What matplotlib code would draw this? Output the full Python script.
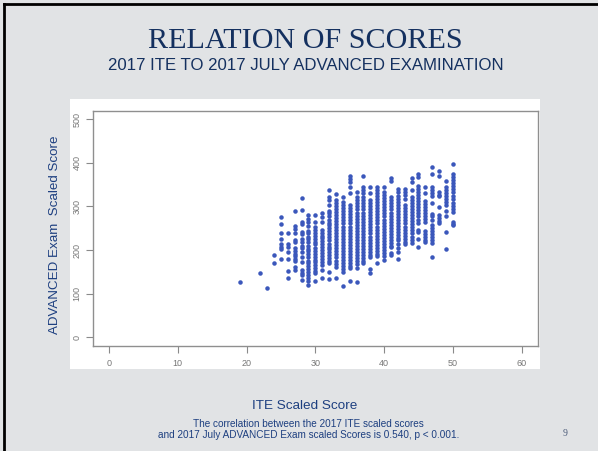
import matplotlib
matplotlib.use("Agg")
import matplotlib.pyplot as plt
from matplotlib.patches import Rectangle
from matplotlib.lines import Line2D

W, H = 598, 451
x_ticks = [0, 10, 20, 30, 40, 50, 60]
y_ticks = [0, 100, 200, 300, 400, 500]

s19 = [127]
s22 = [148]
s23 = [113]
s24 = [188, 170]
s25 = [275, 260, 240, 226, 213, 208, 203, 180]
s26 = [240, 213, 206, 195, 180, 152, 137]
s27 = [289, 256, 249, 240, 222, 219, 205, 198, 192, 187, 180, 174, 162, 155]
s28 = [320, 292, 264, 259, 241, 237, 226, 219, 209, 204, 196, 185, 173, 154, 148, 143, 131]
s29 = [280, 272, 265, 255, 244, 238, 231, 225, 218, 210, 203, 197, 190, 184, 176, 170, 163, 156, 150, 143, 136, 128, 120]
s30 = [280, 265, 253, 247, 240, 233, 226, 219, 213, 205, 198, 192, 185, 178, 172, 166, 158, 152, 147, 129]
s31 = [284, 276, 265, 246, 240, 233, 227, 220, 213, 206, 199, 193, 186, 179, 172, 166, 154, 137]
s32 = [338, 322, 314, 303, 290, 284, 277, 270, 263, 257, 250, 243, 236, 229, 222, 215, 208, 202, 195, 188, 181, 174, 170, 150, 134]
s33 = [328, 315, 308, 301, 295, 288, 281, 274, 267, 260, 253, 246, 239, 232, 225, 218, 211, 204, 197, 190, 183, 176, 169, 162, 137]
s34 = [322, 311, 303, 296, 289, 282, 275, 268, 261, 254, 247, 240, 233, 226, 219, 212, 205, 198, 191, 184, 177, 170, 163, 156, 150, 118]
s35 = [370, 364, 357, 344, 330, 303, 296, 289, 282, 275, 268, 261, 254, 247, 240, 233, 226, 219, 212, 205, 198, 191, 184, 177, 170, 163, 158, 130]
s36 = [334, 321, 314, 307, 300, 293, 286, 279, 272, 265, 258, 251, 244, 237, 230, 223, 216, 209, 202, 195, 188, 181, 174, 167, 158, 127]
s37 = [370, 344, 337, 330, 321, 314, 307, 300, 293, 286, 279, 272, 265, 258, 251, 244, 237, 230, 223, 216, 209, 202, 195, 188, 181, 174, 170]
s38 = [345, 330, 315, 308, 301, 294, 287, 280, 273, 266, 259, 252, 245, 238, 231, 224, 217, 210, 203, 196, 189, 185, 156, 148]
s39 = [345, 338, 331, 324, 317, 310, 303, 296, 289, 282, 275, 268, 261, 254, 247, 240, 233, 226, 219, 212, 205, 198, 191, 187, 170]
s40 = [345, 333, 326, 319, 312, 305, 298, 291, 284, 277, 270, 263, 256, 249, 242, 235, 228, 221, 214, 207, 200, 193, 186, 178]
s41 = [366, 358, 321, 314, 307, 300, 293, 286, 279, 272, 265, 258, 251, 244, 237, 230, 223, 216, 209, 207, 194, 188]
s42 = [339, 332, 325, 318, 311, 304, 297, 290, 283, 276, 269, 262, 255, 248, 241, 234, 227, 223, 215, 204, 195, 179]
s43 = [341, 334, 327, 318, 303, 296, 289, 282, 275, 268, 261, 254, 247, 240, 233, 226, 219, 215]
s44 = [366, 357, 338, 322, 315, 308, 301, 294, 287, 280, 273, 266, 259, 252, 245, 238, 231, 224, 217]
s45 = [374, 367, 347, 340, 333, 326, 319, 312, 305, 298, 291, 284, 277, 270, 261, 247, 242, 226, 208]
s46 = [345, 331, 313, 306, 299, 292, 285, 278, 271, 264, 244, 237, 230, 223, 219]
s47 = [390, 374, 345, 338, 331, 324, 307, 283, 277, 270, 258, 251, 244, 237, 230, 223, 216, 184]
s48 = [381, 370, 333, 326, 325, 298, 280, 273, 266, 261]
s49 = [358, 345, 338, 331, 324, 317, 310, 303, 290, 278, 242, 202]
s50 = [397, 374, 367, 360, 353, 346, 339, 332, 325, 318, 307, 301, 294, 288, 265, 259, 257]

columns = {19: s19, 22: s22, 23: s23, 24: s24, 25: s25, 26: s26, 27: s27, 28: s28, 29: s29,
           30: s30, 31: s31, 32: s32, 33: s33, 34: s34, 35: s35, 36: s36, 37: s37, 38: s38,
           39: s39, 40: s40, 41: s41, 42: s42, 43: s43, 44: s44, 45: s45, 46: s46, 47: s47,
           48: s48, 49: s49, 50: s50}

plt.rcParams['font.family'] = ['Liberation Sans', 'DejaVu Sans']
BG = '#E1E3E5'
NAVY = '#1D3F80'
GREY = '#8A8A8A'
fig = plt.figure(figsize=(W / 100, H / 100), dpi=100, facecolor=BG)

def fx(p): return p / W
def fy(p): return 1 - p / H

fig.add_artist(Rectangle((fx(70), fy(369)), (540 - 70) / W, (369 - 99) / H, transform=fig.transFigure,
                         facecolor='white', edgecolor='none', zorder=0))
fig.add_artist(Line2D([fx(4), fx(4)], [0, fy(4)], color='black', lw=2.0, transform=fig.transFigure))
fig.add_artist(Line2D([fx(4), 1], [fy(4), fy(4)], color='black', lw=2.0, transform=fig.transFigure))

ax = fig.add_axes([fx(92.5), fy(346), (538 - 92.5) / W, (346 - 110.5) / H], facecolor='white')
xs, ys = [], []
for k, vals in columns.items():
    xs += [k] * len(vals)
    ys += vals
ax.scatter(xs, ys, s=10.5, color='#3B57BB', linewidths=0, zorder=3)
ax.set_xlim(-2.4, 62.4)
ax.set_ylim(-20, 520)
ax.set_xticks(x_ticks)
ax.set_yticks(y_ticks)
ax.tick_params(axis='both', length=5, width=0.8, color=GREY, labelcolor='#777777', labelsize=6.5, pad=4)
ax.tick_params(axis='y', pad=3)
for lab in ax.get_yticklabels():
    lab.set_rotation(90)
    lab.set_va('center')
for sp in ax.spines.values():
    sp.set_color('#8F8F8F')
    sp.set_linewidth(1.0)

fig.text(fx(305), fy(41), 'RELATION OF SCORES', family=['Liberation Serif'], fontsize=21.7, color='#14305F', ha='center', va='center')
fig.text(fx(305.5), fy(65), '2017 ITE TO 2017 JULY ADVANCED EXAMINATION', fontsize=12.1, color='#14305F', ha='center', va='center')
fig.text(fx(55), fy(235), 'ADVANCED Exam  Scaled Score', fontsize=9.6, color=NAVY, rotation=90, ha='center', va='center')
fig.text(fx(305), fy(406), 'ITE Scaled Score', fontsize=9.7, color=NAVY, ha='center', va='center')
fig.text(fx(308.5), fy(424), 'The correlation between the 2017 ITE scaled scores', fontsize=7.2, color=NAVY, ha='center', va='center')
fig.text(fx(308.5), fy(435), 'and 2017 July ADVANCED Exam scaled Scores is 0.540, p < 0.001.', fontsize=7.2, color=NAVY, ha='center', va='center')
fig.text(fx(565), fy(433), '9', family=['Liberation Serif'], fontsize=7, color='#4A5A78', ha='center', va='center')

fig.savefig('out.png', dpi=100)
